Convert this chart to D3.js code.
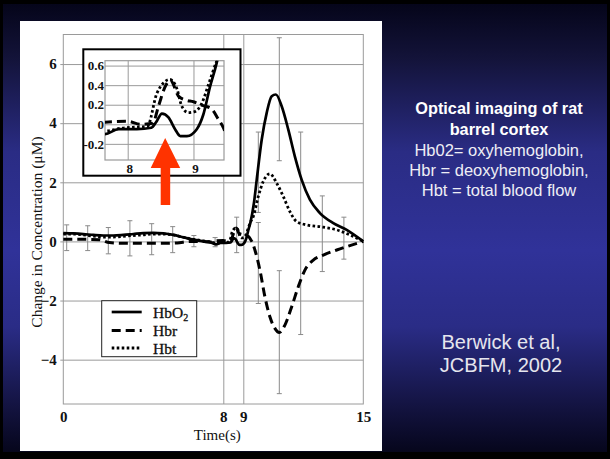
<!DOCTYPE html>
<html>
<head>
<meta charset="utf-8">
<script src="https://cdn.jsdelivr.net/npm/d3@7"></script>
<style>
  html, body { margin: 0; padding: 0; background: #000; }
  svg { display: block; }
</style>
</head>
<body>
<svg id="chart" width="610" height="459"></svg>
<script>
// ---------------- data ----------------
const hbo2T = [0, 0.5, 1, 1.5, 2, 2.5, 3, 3.5, 4, 4.5, 5, 5.5, 6, 6.5, 7, 7.4, 7.655, 7.86, 8.14, 8.36, 8.44, 8.52, 8.62, 8.72, 8.8, 8.9, 9.05, 9.15, 9.25, 9.35, 9.53, 9.67, 9.92, 10.17, 10.42, 10.63, 10.92, 11.25, 11.58, 11.92, 12.33, 12.83, 13.5, 14.17, 15];
const hbo2V = [0.28, 0.27, 0.25, 0.22, 0.2, 0.2, 0.22, 0.25, 0.28, 0.29, 0.27, 0.22, 0.14, 0.06, 0.0, -0.04, -0.1, -0.05, -0.05, -0.035, 0.03, 0.11, 0.07, -0.05, -0.12, -0.12, -0.05, 0.1, 0.38, 0.62, 1.29, 2.08, 3.44, 4.35, 4.91, 4.97, 4.57, 3.78, 2.87, 2.08, 1.41, 0.96, 0.62, 0.39, 0];

const hbrT = [0, 1, 1.8, 2.3, 3, 4, 5, 5.7, 6.3, 7, 7.4, 7.655, 8.0, 8.2, 8.38, 8.47, 8.58, 8.65, 8.77, 8.87, 9.0, 9.15, 9.27, 9.38, 9.45, 9.58, 9.83, 10.08, 10.33, 10.58, 10.8, 11.08, 11.42, 11.75, 12.08, 12.5, 13.0, 13.67, 14.33, 15];
const hbrV = [0.07, 0.07, 0.06, -0.04, -0.06, -0.06, -0.06, -0.05, 0.0, 0.0, -0.02, 0.02, 0.03, 0.0, 0.01, 0.19, 0.4, 0.45, 0.29, 0.25, 0.23, 0.19, 0.16, 0.05, -0.03, -0.29, -0.97, -1.87, -2.55, -2.94, -3.08, -2.83, -2.21, -1.53, -0.97, -0.63, -0.46, -0.29, -0.14, 0];

const hbtT = [0, 0.5, 1, 1.5, 2, 2.5, 3, 3.5, 4, 4.5, 5, 5.5, 6, 6.5, 7, 7.4, 7.655, 7.9, 8.3, 8.44, 8.54, 8.64, 8.75, 8.82, 8.92, 9.02, 9.13, 9.23, 9.35, 9.5, 9.75, 10.0, 10.33, 10.67, 11.0, 11.33, 11.67, 12.17, 12.83, 13.67, 14.33, 15];
const hbtV = [0.25, 0.25, 0.22, 0.18, 0.15, 0.15, 0.17, 0.2, 0.22, 0.25, 0.25, 0.22, 0.14, 0.07, 0.02, -0.02, -0.07, -0.04, -0.02, 0.31, 0.42, 0.46, 0.36, 0.19, 0.12, 0.13, 0.22, 0.41, 0.64, 0.84, 1.52, 2.03, 2.29, 1.97, 1.52, 1.01, 0.67, 0.56, 0.5, 0.39, 0.22, 0];

const errT    = [0.17, 1.22, 2.25, 3.33, 4.42, 5.47, 6.53, 7.59, 8.67, 9.75, 9.75, 10.8, 10.8, 11.87, 12.95, 14.03];
const errLow  = [-0.31, -0.31, -0.42, -0.49, -0.45, -0.38, -0.18, -0.18, -0.38, 0.98, -2.1, 2.73, -5.15, -3.15, -1.02, -0.6];
const errHigh = [0.56, 0.53, 0.47, 0.7, 0.6, 0.5, 0.2, 0.13, 0.82, 3.7, 0.64, 6.89, -0.99, 3.7, 1.54, 0.82];

const yTicks = [-4, -2, 0, 2, 4, 6];
const xTicks = [0, 8, 9, 15];
const xGrid = [8, 9];
const insetYTicks = [-0.2, 0, 0.2, 0.4, 0.6];
const insetXTicks = [8, 9];
const seriesNames = ["HbO\u2082", "Hbr", "Hbt"];
const titleLines = ["Optical imaging of rat", "barrel cortex"];
const bodyLines = ["Hb02= oxyhemoglobin,", "Hbr = deoxyhemoglobin,", "Hbt = total blood flow"];
const citeLines = ["Berwick et al,", "JCBFM, 2002"];

// ---------------- drawing ----------------
const svg = d3.select("#chart");
const defs = svg.append("defs");
const grad = defs.append("linearGradient").attr("id", "bg").attr("x1", 0).attr("y1", 0).attr("x2", 0).attr("y2", 1);
[[0, "#05051a"], [0.12, "#131339"], [0.33, "#2a2c84"], [0.55, "#303299"], [0.72, "#2a2c86"], [0.9, "#131340"], [1, "#06061c"]]
  .forEach(([o, c]) => grad.append("stop").attr("offset", o).attr("stop-color", c));

svg.append("rect").attr("width", 610).attr("height", 459).attr("fill", "#000");
svg.append("rect").attr("x", 3).attr("y", 4).attr("width", 604).attr("height", 448).attr("fill", "url(#bg)");
svg.append("rect").attr("x", 20).attr("y", 21).attr("width", 362).attr("height", 430).attr("fill", "#fff");

const serif = "'Liberation Serif', 'Times New Roman', serif";
const sans = "'Liberation Sans', Arial, sans-serif";

const L = 63.3, R = 363.3, T = 34.5, B = 404;
const x = d3.scaleLinear().domain([0, 15]).range([L, R]);
const y = d3.scaleLinear().domain([-5.5, 7]).range([B, T]);

const gridColor = "#9a9a9a";

// horizontal grid + y labels
const yAx = svg.append("g").attr("transform", `translate(${L - 3},0)`)
  .call(d3.axisLeft(y).tickValues(yTicks).tickSize(-(R - L + 3)).tickPadding(3.5).tickFormat(d3.format("d")));
yAx.select(".domain").remove();
yAx.selectAll("line").attr("stroke", gridColor).attr("stroke-width", 1);
yAx.selectAll("text").attr("font-family", serif).attr("font-weight", "bold").attr("font-size", 15).attr("fill", "#111");

// vertical grid
const xg = svg.append("g").attr("transform", `translate(0,${B})`)
  .call(d3.axisBottom(x).tickValues(xGrid).tickSize(-(B - T)).tickFormat(""));
xg.select(".domain").remove();
xg.selectAll("line").attr("stroke", gridColor).attr("stroke-width", 1);

// x labels
const xAx = svg.append("g").attr("transform", `translate(0,${B})`)
  .call(d3.axisBottom(x).tickValues(xTicks).tickSize(0).tickPadding(7.5).tickFormat(d3.format("d")));
xAx.select(".domain").remove();
xAx.selectAll("text").attr("font-family", serif).attr("font-weight", "bold").attr("font-size", 15).attr("fill", "#111");

// frame
svg.append("rect").attr("x", L).attr("y", T).attr("width", R - L).attr("height", B - T)
  .attr("fill", "none").attr("stroke", gridColor).attr("stroke-width", 1);

// axis titles
svg.append("text").attr("x", (L + R) / 2 + 4).attr("y", 440).attr("text-anchor", "middle")
  .attr("font-family", serif).attr("font-size", 15).attr("fill", "#111").text("Time(s)");
svg.append("text").attr("transform", `translate(42,232) rotate(-90)`).attr("text-anchor", "middle")
  .attr("font-family", serif).attr("font-size", 15.5).attr("fill", "#111").text("Change in Concentration (\u03bcM)");

// error bars
const err = errT.map((t, i) => ({ t, lo: errLow[i], hi: errHigh[i] }));
const eg = svg.append("g").attr("stroke", "#8a8a8a").attr("stroke-width", 1).attr("fill", "none");
eg.selectAll("line.v").data(err).join("line").attr("class", "v")
  .attr("x1", d => x(d.t)).attr("x2", d => x(d.t)).attr("y1", d => y(d.lo)).attr("y2", d => y(d.hi));
eg.selectAll("line.c1").data(err).join("line").attr("class", "c1")
  .attr("x1", d => x(d.t) - 2.5).attr("x2", d => x(d.t) + 2.5).attr("y1", d => y(d.lo)).attr("y2", d => y(d.lo));
eg.selectAll("line.c2").data(err).join("line").attr("class", "c2")
  .attr("x1", d => x(d.t) - 2.5).attr("x2", d => x(d.t) + 2.5).attr("y1", d => y(d.hi)).attr("y2", d => y(d.hi));

const series = [
  { t: hbo2T, v: hbo2V, dash: null, w: 2.7 },
  { t: hbrT, v: hbrV, dash: "9,5", w: 3 },
  { t: hbtT, v: hbtV, dash: "2.6,2.4", w: 2.8 }
];

function drawSeries(g, xs, ys) {
  const line = d3.line().x(d => xs(d[0])).y(d => ys(d[1])).curve(d3.curveMonotoneX);
  series.forEach(s => {
    g.append("path").datum(s.t.map((t, i) => [t, s.v[i]]))
      .attr("d", line).attr("fill", "none").attr("stroke", "#000")
      .attr("stroke-width", s.w).attr("stroke-dasharray", s.dash)
      .attr("stroke-linejoin", "round");
  });
}
drawSeries(svg.append("g"), x, y);

// ---------------- inset ----------------
const iL = 105, iR = 224, iT = 60.7, iB = 160;
const xi = d3.scaleLinear().domain([7.655, 9.464]).range([iL, iR]);
const yi = d3.scaleLinear().domain([-0.365, 0.65]).range([iB, iT]);

svg.append("rect").attr("x", 83.3).attr("y", 49.3).attr("width", 157.2).attr("height", 126.4)
  .attr("fill", "#fff").attr("stroke", "#000").attr("stroke-width", 2);

defs.append("clipPath").attr("id", "iclip").append("rect")
  .attr("x", iL).attr("y", iT).attr("width", iR - iL).attr("height", iB - iT);

const iyAx = svg.append("g").attr("transform", `translate(${iL},0)`)
  .call(d3.axisLeft(yi).tickValues(insetYTicks).tickSize(-(iR - iL)).tickPadding(1));
iyAx.select(".domain").remove();
iyAx.selectAll("line").attr("stroke", gridColor);
iyAx.selectAll("text").attr("font-family", serif).attr("font-weight", "bold").attr("font-size", 13).attr("fill", "#111")
  .text(d => d === 0 ? "0" : d3.format(".1f")(d).replace("\u2212", "-"));

const ixg = svg.append("g").attr("transform", `translate(0,${iB})`)
  .call(d3.axisBottom(xi).tickValues(insetXTicks).tickSize(-(iB - iT)).tickPadding(4).tickFormat(d3.format("d")));
ixg.select(".domain").remove();
ixg.selectAll("line").attr("stroke", gridColor);
ixg.selectAll("text").attr("font-family", serif).attr("font-weight", "bold").attr("font-size", 13).attr("fill", "#111")
  .attr("dx", 1.5);

svg.append("rect").attr("x", iL).attr("y", iT).attr("width", iR - iL).attr("height", iB - iT)
  .attr("fill", "none").attr("stroke", gridColor).attr("stroke-width", 1.2);

drawSeries(svg.append("g").attr("clip-path", "url(#iclip)"), xi, yi);

// red arrow pointing at the inset bump
const ax = xi(8.57), tipY = yi(-0.14);
const arrow = d3.path();
arrow.moveTo(ax, tipY);
arrow.lineTo(ax + 15, tipY + 30);
arrow.lineTo(ax + 5, tipY + 30);
arrow.lineTo(ax + 5, tipY + 67);
arrow.lineTo(ax - 4.5, tipY + 67);
arrow.lineTo(ax - 4.5, tipY + 30);
arrow.lineTo(ax - 14.5, tipY + 30);
arrow.closePath();
svg.append("path").attr("d", arrow.toString()).attr("fill", "#ff3300");

// ---------------- legend ----------------
const lg = svg.append("g");
lg.append("rect").attr("x", 101.7).attr("y", 300.7).attr("width", 95).attr("height", 56)
  .attr("fill", "#fff").attr("stroke", "#222").attr("stroke-width", 1);
const legY = [312, 330.5, 348];
series.forEach((s, i) => {
  lg.append("line").attr("x1", 111.7).attr("x2", 141.7).attr("y1", legY[i]).attr("y2", legY[i])
    .attr("stroke", "#000").attr("stroke-width", s.w).attr("stroke-dasharray", s.dash);
});
const legText = lg.selectAll("text").data(seriesNames).join("text")
  .attr("x", 153).attr("y", (d, i) => legY[i] + 5.5)
  .attr("font-family", serif).attr("font-size", 15.5).attr("fill", "#111")
  .attr("stroke", "#111").attr("stroke-width", 0.3);
legText.each(function(d) {
  const t = d3.select(this);
  if (d.endsWith("\u2082")) {
    t.append("tspan").text(d.slice(0, -1));
    t.append("tspan").attr("font-size", 10).attr("dy", 3).text("2");
  } else t.text(d);
});

// ---------------- right-side text ----------------
const cx = 499;
svg.selectAll("text.title").data(titleLines).join("text").attr("class", "title")
  .attr("x", cx).attr("y", (d, i) => 114 + i * 21).attr("text-anchor", "middle")
  .attr("font-family", sans).attr("font-weight", "bold").attr("font-size", 16.3).attr("fill", "#fff").text(d => d);
svg.selectAll("text.body").data(bodyLines).join("text").attr("class", "body")
  .attr("x", cx).attr("y", (d, i) => 156 + i * 20).attr("text-anchor", "middle")
  .attr("font-family", sans).attr("font-size", 16.5).attr("fill", "#eeeef5").text(d => d);
svg.selectAll("text.cite").data(citeLines).join("text").attr("class", "cite")
  .attr("x", 501).attr("y", (d, i) => 348.5 + i * 23.5).attr("text-anchor", "middle")
  .attr("font-family", sans).attr("font-size", 20).attr("fill", "#e6e6ee").text(d => d);
</script>
</body>
</html>
